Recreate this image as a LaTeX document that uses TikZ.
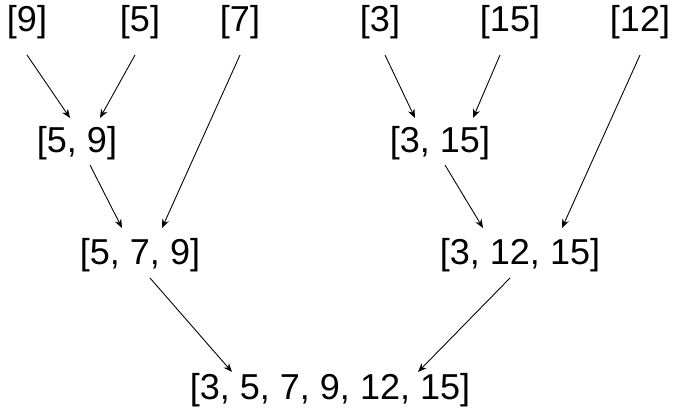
\documentclass[tikz,border=0pt]{standalone}
\usepackage{fontspec}
\setmainfont{Liberation Sans}
\usetikzlibrary{calc,arrows.meta}
\tikzset{
	list/.style = {inner sep=0pt, font=\fontsize{20.5}{22}\selectfont},
	merge/.style = {-{Stealth[length=5pt,width=4pt]}, line width=0.5pt},
}
\begin{document}
\begin{tikzpicture}[x=0.02cm, y=-0.02cm]
	\useasboundingbox (0,0) rectangle (681,418);
	% single elements
	\node[list] (a9)  at (27,22)  {[9]};
	\node[list] (a5)  at (140,22) {[5]};
	\node[list] (a7)  at (240,22) {[7]};
	\node[list] (a3)  at (380,22) {[3]};
	\node[list] (a15) at (510,22) {[15]};
	\node[list] (a12) at (640,22) {[12]};
	% merged lists
	\node[list] (b59)   at (77,143)  {[5, 9]};
	\node[list] (b315)  at (440,143) {[3, 15]};
	\node[list] (c579)  at (140,255) {[5, 7, 9]};
	\node[list] (c31215) at (520,255) {[3, 12, 15]};
	\node[list] (done)  at (330,390) {[3, 5, 7, 9, 12, 15]};

	% merge arrows
	\draw[merge] ($(a9)+(0,33)$)  -- ($(b59)+(-7,-25)$);
	\draw[merge] ($(a5)+(-5,33)$) -- ($(b59)+(23,-25)$);
	\draw[merge] ($(a7)+(0,33)$)  -- ($(c579)+(22,-27)$);
	\draw[merge] ($(b59)+(13,22)$) -- ($(c579)+(-18,-27)$);
	\draw[merge] ($(a3)+(5,33)$)  -- ($(b315)+(-25,-25)$);
	\draw[merge] ($(a15)+(-10,33)$) -- ($(b315)+(33,-25)$);
	\draw[merge] ($(b315)+(5,22)$) -- ($(c31215)+(-37,-27)$);
	\draw[merge] ($(a12)+(0,33)$) -- ($(c31215)+(42,-27)$);
	\draw[merge] ($(c579)+(10,23)$) -- ($(done)+(-98,-18)$);
	\draw[merge] ($(c31215)+(-10,23)$) -- ($(done)+(88,-18)$);
\end{tikzpicture}
\end{document}
